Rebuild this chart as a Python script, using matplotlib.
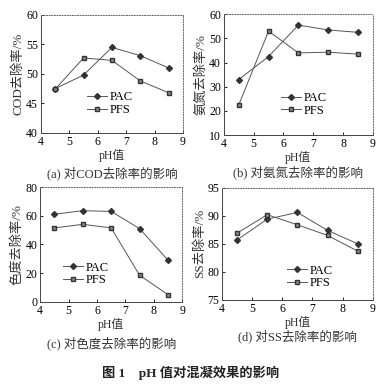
import matplotlib
matplotlib.use("Agg")
import matplotlib.pyplot as plt

plt.rcParams['font.family'] = ['Liberation Serif', 'Noto Sans CJK SC']
plt.rcParams['font.size'] = 7.5

ph = [4.5, 5.5, 6.5, 7.5, 8.5]

cod_pac = [47.5, 49.8, 54.5, 53.1, 51.0]
cod_pfs = [47.4, 52.7, 52.3, 48.8, 46.8]
nh_pac = [33.0, 42.5, 55.5, 53.5, 52.5]
nh_pfs = [22.5, 53.0, 44.0, 44.3, 43.5]
color_pac = [61.0, 63.5, 63.0, 51.0, 29.0]
color_pfs = [51.5, 54.0, 51.5, 18.5, 5.0]
ss_pac = [85.7, 89.4, 90.6, 87.4, 85.0]
ss_pfs = [86.9, 90.2, 88.4, 86.5, 83.7]

ylabels = ['COD去除率/%', '氨氮去除率/%', '色度去除率/%', 'SS去除率/%']
captions = ['(a) 对COD去除率的影响', '(b) 对氨氮去除率的影响',
            '(c) 对色度去除率的影响', '(d) 对SS去除率的影响']
ylims = [(40, 60, 5), (10, 60, 10), (0, 80, 20), (75, 95, 5)]

fig = plt.figure(figsize=(3.82, 3.84), dpi=100)

# axes rectangles in figure fractions
rects = [[0.107, 0.654, 0.372, 0.307],
         [0.586, 0.648, 0.390, 0.315],
         [0.105, 0.214, 0.372, 0.299],
         [0.581, 0.219, 0.395, 0.292]]
legpos = [(0.28, 0.09), (0.34, 0.10), (0.12, 0.08), (0.39, 0.04)]
cap_y = [-0.34, -0.31, -0.36, -0.33]
series = [(cod_pac, cod_pfs), (nh_pac, nh_pfs),
          (color_pac, color_pfs), (ss_pac, ss_pfs)]

for i in range(4):
    ax = fig.add_axes(rects[i])
    pac, pfs = series[i]
    ax.plot(ph, pac, color='#555555', lw=0.7, marker='D', ms=3,
            mfc='#333333', mec='#333333', label='PAC')
    ax.plot(ph, pfs, color='#555555', lw=0.7, marker='s', ms=3.5,
            mfc='#888888', mec='#333333', label='PFS')
    lo, hi, step = ylims[i]
    ax.set_ylim(lo, hi)
    ax.set_yticks(range(lo, hi + 1, step))
    ax.set_xlim(4, 9)
    ax.set_xticks(range(4, 10))
    ax.tick_params(direction='in', length=2, width=0.6, pad=2, labelsize=8.5)
    for s in ['left', 'bottom']:
        ax.spines[s].set_linewidth(0.7)
        ax.spines[s].set_color('#444444')
    for s in ['top', 'right']:
        ax.spines[s].set_linewidth(0.7)
        ax.spines[s].set_color('#666666')
        ax.spines[s].set_linestyle(':')
    ax.set_ylabel(ylabels[i], fontsize=9.5, labelpad=1, color='#333333')
    ax.set_xlabel('pH值', fontsize=8.5, labelpad=1, color='#333333')
    ax.text(0.5, cap_y[i], captions[i], transform=ax.transAxes, ha='center',
            va='center', fontsize=9, color='#333333')
    ax.legend(loc='lower left', bbox_to_anchor=legpos[i], frameon=False,
              fontsize=9, handlelength=1.6, labelspacing=0.05,
              borderpad=0, handletextpad=0.2)

fig.text(0.5, 0.029, '图 1    pH 值对混凝效果的影响', ha='center', va='center',
         fontsize=9.5, fontweight='bold', color='#222222')

fig.savefig('out.png', dpi=100)
